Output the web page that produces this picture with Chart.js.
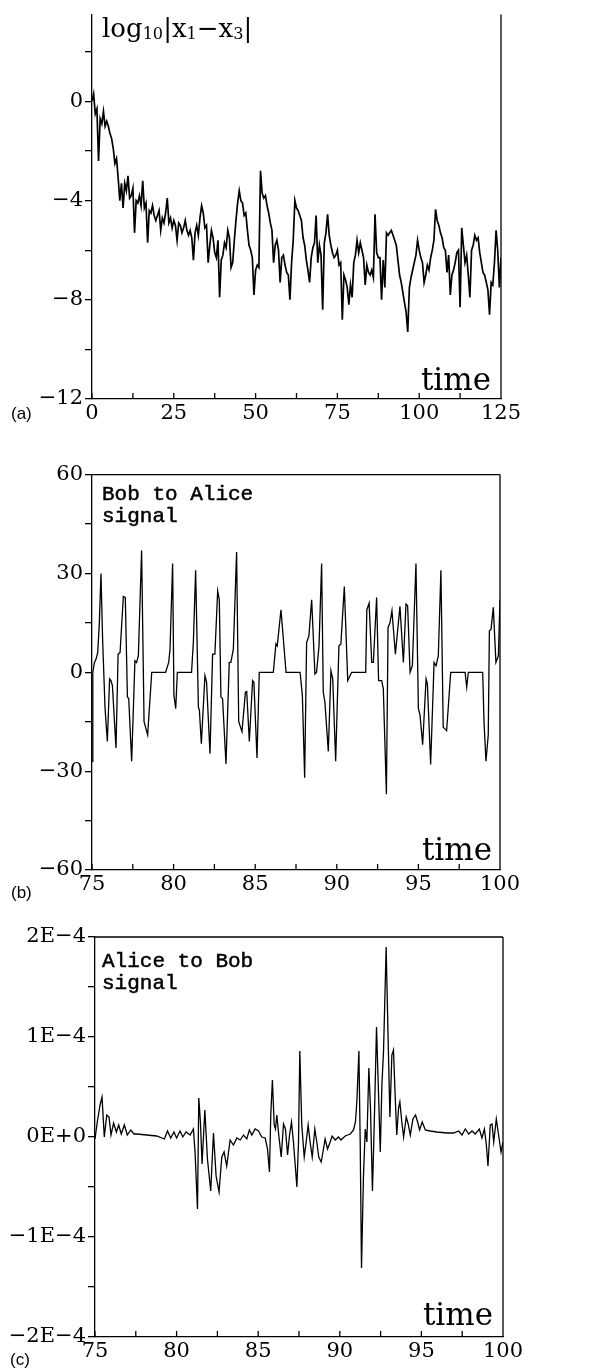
<!DOCTYPE html>
<html>
<head>
<meta charset="utf-8">
<script src="https://cdn.jsdelivr.net/npm/chart.js@4.4.1/dist/chart.umd.min.js"></script>
<style>
    body { margin: 0; background: #fff; width: 602px; height: 1372px; position: relative; overflow: hidden; }
    .panel { position: absolute; left: 0; width: 602px; }
    .lbl { position: absolute; white-space: nowrap; color: #000; line-height: 1; }
    .serif { font-family: "DejaVu Serif", serif; }
    .mono { font-family: "Liberation Mono", monospace; font-size: 21px; line-height: 22px; -webkit-text-stroke: 0.5px #000; }
    .tag { font-family: "Liberation Sans", Arial, sans-serif; font-size: 17px; }
    .time { font-size: 31px; text-align: right; }
    sub { font-size: 0.62em; vertical-align: -0.12em; line-height: 0; }
</style>
</head>
<body>
<div class="panel" style="top:0;height:440px"><canvas id="chartA" width="602" height="440"></canvas></div>
<div class="panel" style="top:460px;height:440px"><canvas id="chartB" width="602" height="440"></canvas></div>
<div class="panel" style="top:910px;height:462px"><canvas id="chartC" width="602" height="462"></canvas></div>

<div class="lbl serif" style="left:102px;top:15px;font-size:26px">log<sub>10</sub>|x<sub>1</sub>&minus;x<sub>3</sub>|</div>
<div class="lbl serif time" style="right:111px;top:364px">time</div>
<div class="lbl tag" style="left:11px;top:405px">(a)</div>

<div class="lbl mono" style="left:102px;top:484px">Bob to Alice<br>signal</div>
<div class="lbl serif time" style="right:110px;top:834px">time</div>
<div class="lbl tag" style="left:11px;top:884px">(b)</div>

<div class="lbl mono" style="left:102px;top:951px">Alice to Bob<br>signal</div>
<div class="lbl serif time" style="right:109px;top:1299px">time</div>
<div class="lbl tag" style="left:10px;top:1351px">(c)</div>

<script>
// (a) log10|x1 - x3| sampled every half time unit, 0..125
const logTimeStep = 0.5;
const logDiff = [
    0.0, 0.3, -0.5, -0.3, -2.4, -0.7, -0.9, -0.4, -1.0, -0.8,
    -1.0, -1.3, -1.5, -1.9, -2.5, -2.3, -3.1, -4.0, -3.3, -4.3,
    -3.3, -3.6, -3.0, -3.9, -3.8, -3.5, -5.3, -4.0, -4.1, -3.8,
    -4.2, -3.2, -4.3, -4.1, -5.7, -4.4, -4.5, -4.2, -4.6, -4.8,
    -4.6, -4.4, -5.2, -4.7, -4.9, -4.5, -3.9, -4.9, -4.7, -5.1,
    -4.8, -5.0, -5.6, -4.9, -5.0, -5.3, -5.1, -4.8, -5.2, -5.4,
    -5.2, -5.5, -6.4, -5.3, -5.0, -5.4, -4.7, -4.2, -4.5, -5.1,
    -5.0, -6.5, -5.8, -5.2, -5.5, -6.1, -6.3, -5.6, -7.9, -6.4,
    -6.2, -5.7, -5.9, -5.2, -5.5, -6.7, -6.5, -5.6, -4.8, -4.1,
    -3.6, -4.0, -4.1, -4.6, -4.5, -5.2, -5.8, -6.0, -6.3, -7.8,
    -6.8, -6.6, -6.7, -2.8, -3.7, -3.9, -3.8, -4.2, -4.5, -4.9,
    -5.2, -6.5, -5.8, -5.6, -6.0, -7.3, -6.3, -6.2, -6.6, -6.9,
    -7.0, -8.0, -6.5, -5.6, -4.0, -4.3, -4.4, -4.6, -4.8, -5.5,
    -5.8, -6.4, -6.8, -7.3, -6.3, -5.9, -5.7, -4.6, -6.5, -5.8,
    -6.2, -8.4, -5.7, -5.3, -4.55, -5.4, -5.8, -6.1, -6.3, -6.2,
    -6.0, -6.6, -6.5, -8.8, -7.0, -7.2, -7.5, -8.2, -7.4, -7.9,
    -6.5, -6.2, -5.6, -6.1, -5.7, -6.0, -6.3, -7.4, -6.6, -6.9,
    -7.0, -6.8, -7.1, -4.55, -6.1, -6.3, -6.3, -8.0, -6.4, -7.5,
    -5.3, -5.4, -5.3, -5.2, -5.4, -5.6, -5.8, -6.4, -7.0, -7.3,
    -7.7, -8.1, -8.5, -9.3, -7.5, -7.1, -6.8, -6.5, -6.2, -5.6,
    -6.0, -6.3, -6.5, -7.3, -7.0, -6.6, -6.8, -6.3, -6.0, -5.6,
    -4.35, -4.8, -5.0, -5.3, -5.5, -5.9, -6.0, -6.9, -6.2, -7.8,
    -7.0, -6.8, -6.5, -6.1, -6.0, -8.3, -5.1, -5.8, -6.5, -6.2,
    -7.0, -7.9, -6.0, -5.8, -5.4, -5.6, -5.5, -6.1, -6.5, -6.9,
    -7.0, -7.3, -7.6, -8.6, -7.3, -7.4, -6.5, -5.2, -6.0, -7.5,
    -6.3
];

// (b) Bob to Alice signal
const bobTimes = [
    75.0, 75.05, 75.15, 75.25, 75.35, 75.45, 75.55, 75.65, 75.8, 75.94,
    76.08, 76.16, 76.25, 76.47, 76.6, 76.72, 76.92, 77.04, 77.17, 77.25,
    77.43, 77.63, 77.73, 77.84, 78.04, 78.19, 78.41, 78.66, 79.51, 79.7,
    79.78, 79.94, 80.02, 80.13, 80.23, 81.1, 81.21, 81.35, 81.52, 81.58,
    81.7, 81.92, 82.02, 82.23, 82.39, 82.53, 82.7, 82.8, 82.9, 83.0,
    83.21, 83.41, 83.51, 83.66, 83.86, 83.99, 84.19, 84.4, 84.48, 84.64,
    84.84, 84.92, 85.11, 85.25, 86.11, 86.27, 86.35, 86.58, 86.89, 87.75,
    87.89, 88.03, 88.15, 88.29, 88.46, 88.66, 88.76, 88.91, 89.07, 89.17,
    89.27, 89.48, 89.64, 89.75, 89.93, 90.13, 90.25, 90.46, 90.67, 90.91,
    91.77, 91.84, 91.98, 92.14, 92.24, 92.44, 92.56, 92.75, 92.85, 93.04,
    93.14, 93.26, 93.38, 93.59, 93.87, 94.08, 94.24, 94.34, 94.49, 94.63,
    94.85, 95.0, 95.1, 95.26, 95.47, 95.55, 95.75, 95.96, 96.08, 96.22,
    96.38, 96.52, 96.73, 96.98, 97.86, 97.96, 98.06, 98.94, 99.02, 99.14,
    99.28, 99.35, 99.45, 99.59, 99.75, 99.9, 100.0
];
const bobSignal = [
    -27, 0, 3, 4, 6, 15, 30, 10, -11, -21,
    -2, -2.5, -4, -23, 5.5, 6, 23, 22.7, -7.5, -8,
    -27, 3.5, 3, 5, 37, -15, -19, 0, 0, 3,
    7, 33, -7, -11, 0, 0, 9, 31, -10.6, -11.5,
    -21.7, -1, -3, -24.7, 5.5, 5.5, 24.7, 22, -7.5, -8,
    -27.8, 3, 3, 7, 36.5, -15, -18, -6, -5.8, -21,
    -2.5, -3, -26, 0, 0, 8.6, 8, 19, 0, 0,
    -7, -32, 9, 11, 22, -0.5, 0, 8, 33, -6,
    -9, -24, 0.5, -2, -27, 8, 8.6, 26, -2.5, 0,
    0, 19, 21, 3, 3, 22.7, -2.5, -2.5, -5, -37,
    13.6, 15, 18.7, 5.5, 20, 3, 20.7, 20.2, 0, 2,
    33, -11, -13, -22, -2, -3.5, -28, 3, 2, 5,
    31, -16.7, -17.7, 0, 0, -4.5, 0, 0, -15, -27,
    -19, 12.6, 13, 19.7, 3, 5, 22
];

// (c) Alice to Bob signal, in units of 1E-4
const aliceTimes = [
    75.0, 75.14, 75.31, 75.43, 75.57, 75.72, 75.86, 75.98, 76.14, 76.31,
    76.45, 76.61, 76.8, 76.98, 77.19, 77.39, 77.56, 78.78, 79.25, 79.44,
    79.64, 79.84, 80.0, 80.21, 80.38, 80.58, 80.83, 81.03, 81.13, 81.28,
    81.36, 81.46, 81.56, 81.73, 81.89, 82.09, 82.26, 82.42, 82.6, 82.77,
    82.91, 83.07, 83.28, 83.48, 83.69, 83.9, 84.1, 84.3, 84.46, 84.61,
    84.81, 85.02, 85.22, 85.43, 85.57, 85.69, 85.77, 85.87, 85.98, 86.06,
    86.14, 86.26, 86.41, 86.55, 86.67, 86.8, 86.92, 87.04, 87.16, 87.37,
    87.47, 87.55, 87.67, 87.82, 87.94, 88.06, 88.18, 88.31, 88.47, 88.59,
    88.71, 88.86, 89.0, 89.1, 89.25, 89.41, 89.53, 89.72, 89.92, 90.07,
    90.33, 90.64, 90.84, 90.96, 91.05, 91.17, 91.25, 91.33, 91.45, 91.56,
    91.66, 91.78, 91.88, 92.0, 92.11, 92.25, 92.37, 92.48, 92.58, 92.68,
    92.84, 92.94, 93.07, 93.19, 93.29, 93.39, 93.49, 93.6, 93.68, 93.8,
    93.91, 94.07, 94.19, 94.32, 94.48, 94.64, 94.77, 94.89, 95.05, 95.24,
    95.54, 95.95, 96.57, 96.97, 97.28, 97.49, 97.69, 97.9, 98.1, 98.3,
    98.55, 98.71, 98.86, 98.98, 99.08, 99.22, 99.33, 99.43, 99.59, 99.73,
    99.88, 100.0
];
const aliceSignalE4 = [
    -0.02, 0.15, 0.32, 0.4, 0.0, 0.22, 0.2, 0.02, 0.14, 0.05,
    0.12, 0.03, 0.12, 0.02, 0.07, 0.03, 0.03, 0.01, -0.02, 0.06,
    -0.01, 0.05, -0.01, 0.06, 0.0, 0.05, 0.02, 0.08, -0.15, -0.72,
    0.39, 0.15, -0.27, 0.27, -0.22, -0.54, 0.04, -0.39, -0.55, -0.2,
    -0.15, -0.29, -0.03, -0.08, -0.01, -0.03, 0.02, -0.02, 0.07, 0.02,
    0.08, 0.06, 0.0, -0.01, -0.12, -0.35, 0.22, 0.57, 0.12, 0.08,
    0.22, 0.02, -0.2, 0.13, 0.08, -0.18, 0.02, 0.15, -0.05, -0.5,
    -0.05, 0.86, 0.12, -0.2, -0.05, 0.12, -0.05, -0.2, 0.08, -0.05,
    -0.2, -0.25, -0.12, -0.02, -0.12, -0.05, 0.01, -0.03, 0.0, -0.03,
    0.01, 0.03, 0.07, 0.15, 0.37, 0.86, -0.05, -1.31, -0.39, 0.08,
    -0.05, 0.69, 0.29, -0.54, 0.12, 1.1, 0.45, -0.15, 0.52, 0.86,
    1.9, 1.13, 0.2, 0.82, 0.87, 0.42, 0.02, 0.29, 0.35, 0.15,
    0.0, 0.2, 0.13, 0.02, 0.18, 0.22, 0.15, 0.07, 0.15, 0.07,
    0.06, 0.05, 0.04, 0.04, 0.06, 0.02, 0.08, 0.03, 0.06, 0.03,
    0.08, -0.01, 0.08, -0.08, -0.29, 0.12, 0.13, -0.05, 0.18, 0.02,
    -0.15, -0.05
];

const tickFont = { family: "'DejaVu Serif', serif", size: 21 };
const minus = function (s) { return String(s).replace(/-/g, '\u2212'); };

// right (and top) frame line plus the inward ticks on the time axis
var framePlugin = {
    id: 'frame',
    afterDatasetsDraw: function (chart, args, opts) {
        var a = chart.chartArea, ctx = chart.ctx, xs = chart.scales.x;
        ctx.save();
        ctx.strokeStyle = '#000';
        ctx.lineWidth = 1.3;
        ctx.beginPath();
        ctx.moveTo(a.right, a.top);
        ctx.lineTo(a.right, a.bottom);
        if (opts.top) {
            ctx.moveTo(a.left, a.top);
            ctx.lineTo(a.right, a.top);
        }
        xs.ticks.forEach(function (t) {
            var px = xs.getPixelForValue(t.value);
            ctx.moveTo(px, a.bottom);
            ctx.lineTo(px, a.bottom - 6);
        });
        ctx.stroke();
        ctx.restore();
    }
};

function makePanel(id, xs, ys, p) {
    var points = ys.map(function (v, i) { return { x: xs[i], y: v }; });
    return new Chart(document.getElementById(id), {
        type: 'line',
        data: {
            datasets: [{
                data: points,
                borderColor: '#000',
                borderWidth: p.lineWidth,
                pointRadius: 0,
                tension: 0
            }]
        },
        options: {
            responsive: false,
            animation: false,
            events: [],
            layout: { padding: p.padding },
            plugins: { legend: { display: false }, tooltip: { enabled: false }, frame: { top: p.top } },
            scales: {
                x: {
                    type: 'linear',
                    min: p.xMin, max: p.xMax,
                    afterFit: function (s) { s.height = p.xHeight; },
                    grid: { display: true, drawOnChartArea: false, drawTicks: false },
                    border: { display: true, color: '#000', width: 1.3 },
                    ticks: {
                        stepSize: p.xStep, autoSkip: false, maxRotation: 0, includeBounds: false,
                        color: '#000', font: tickFont, padding: p.xPad,
                        callback: function (v) { return (Math.abs(v % p.xMajor) < 1e-9) ? String(v) : ''; }
                    }
                },
                y: {
                    type: 'linear',
                    min: p.yMin, max: p.yMax,
                    afterFit: function (s) { s.width = p.yWidth; },
                    grid: { display: true, drawOnChartArea: false, drawTicks: true, tickLength: 7, color: '#000', lineWidth: 1.3 },
                    border: { display: true, color: '#000', width: 1.3 },
                    ticks: {
                        stepSize: p.yStep, autoSkip: false, includeBounds: false,
                        color: '#000', font: tickFont, padding: 2,
                        callback: function (v) { return (Math.abs(v % p.yMajor) < 1e-9) ? p.yFormat(v) : ''; }
                    }
                }
            }
        },
        plugins: [framePlugin]
    });
}

var logTimes = logDiff.map(function (v, i) { return i * logTimeStep; });

makePanel('chartA', logTimes, logDiff, {
    lineWidth: 1.7, top: false,
    padding: { top: 12, right: 101, bottom: 11, left: 0 },
    xMin: 0, xMax: 125, xStep: 12.5, xMajor: 25, xHeight: 30, xPad: 2,
    yMin: -12, yMax: 3.5, yStep: 2, yMajor: 4, yWidth: 92,
    yFormat: function (v) { return minus(v); }
});

makePanel('chartB', bobTimes, bobSignal, {
    lineWidth: 1.3, top: true,
    padding: { top: 10, right: 102, bottom: 0, left: 0 },
    xMin: 75, xMax: 100, xStep: 2.5, xMajor: 5, xHeight: 30, xPad: 2,
    yMin: -60, yMax: 60, yStep: 15, yMajor: 30, yWidth: 92,
    yFormat: function (v) { return minus(v); }
});

makePanel('chartC', aliceTimes, aliceSignalE4, {
    lineWidth: 1.3, top: true,
    padding: { top: 27, right: 99, bottom: 0, left: 0 },
    xMin: 75, xMax: 100, xStep: 2.5, xMajor: 5, xHeight: 35, xPad: 2,
    yMin: -2, yMax: 2, yStep: 0.5, yMajor: 1, yWidth: 95,
    yFormat: function (v) { return v === 0 ? '0E+0' : minus(v + 'E-4'); }
});
</script>
</body>
</html>
